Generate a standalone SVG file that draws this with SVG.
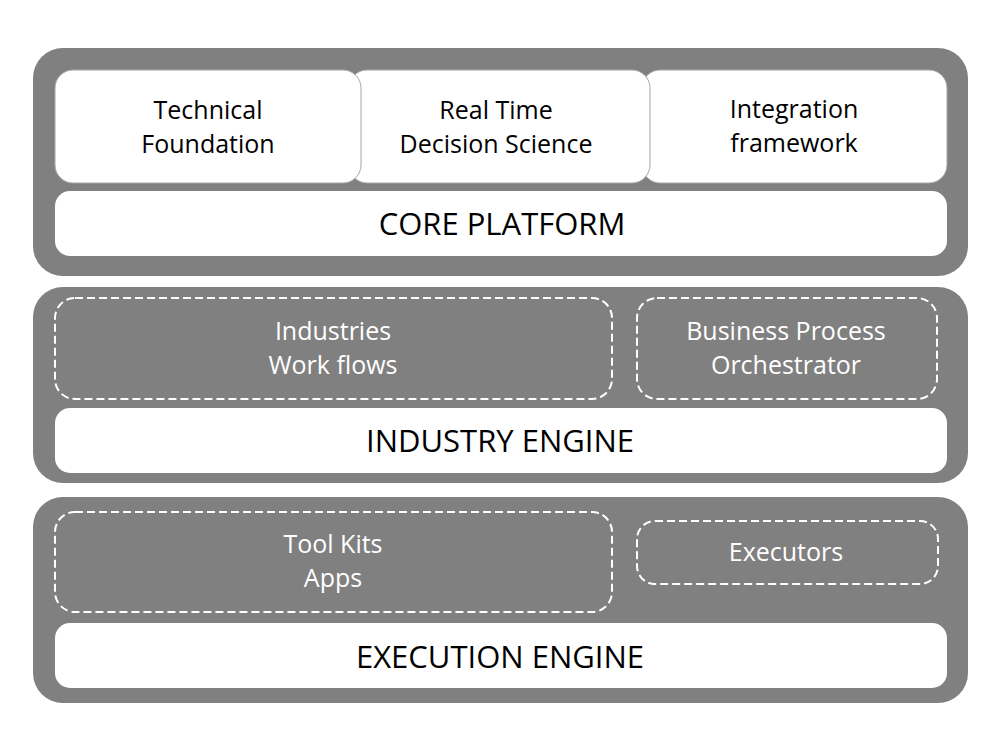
<svg xmlns="http://www.w3.org/2000/svg" width="1000" height="750" viewBox="0 0 1000 750">
<style>
.panel{fill:#808080}
.tile{fill:#fff;stroke:#a6a6a6;stroke-width:1}
.bar{fill:#fff}
.dash{fill:none;stroke:#fff;stroke-width:2;stroke-dasharray:8 4}
.t{font-family:"Open Sans","Noto Sans",sans-serif;font-size:25px;text-anchor:middle}
.dk{fill:#000}
.lt{fill:#fff}
.big{font-family:"Open Sans","Noto Sans",sans-serif;font-size:31px;text-anchor:middle;fill:#000}
</style>
<rect width="1000" height="750" fill="#fff"/>
<g id="core-platform">
<rect class="panel" x="33" y="48" width="935" height="228" rx="30"/>
<g id="integration-framework">
<rect class="tile" x="642" y="70" width="305" height="113" rx="18"/>
<text class="t dk" x="794" y="118">Integration</text>
<text class="t dk" x="794" y="152">framework</text>
</g>
<g id="real-time-decision-science">
<rect class="tile" x="349" y="70" width="301" height="113" rx="18"/>
<text class="t dk" x="496" y="119">Real Time</text>
<text class="t dk" x="496" y="153">Decision Science</text>
</g>
<g id="technical-foundation">
<rect class="tile" x="55" y="70" width="306" height="113" rx="18"/>
<text class="t dk" x="208" y="119">Technical</text>
<text class="t dk" x="208" y="153">Foundation</text>
</g>
<rect class="bar" x="55" y="191" width="892" height="65" rx="15"/>
<text class="big" x="502" y="235">CORE PLATFORM</text>
</g>
<g id="industry-engine">
<rect class="panel" x="33" y="287" width="935" height="196" rx="30"/>
<g id="industries-workflows">
<rect class="dash" x="55" y="298" width="557" height="101" rx="20"/>
<text class="t lt" x="333" y="340">Industries</text>
<text class="t lt" x="333" y="374">Work flows</text>
</g>
<g id="business-process-orchestrator">
<rect class="dash" x="637" y="298" width="300" height="101" rx="20"/>
<text class="t lt" x="786" y="340">Business Process</text>
<text class="t lt" x="786" y="374">Orchestrator</text>
</g>
<rect class="bar" x="55" y="408" width="892" height="65" rx="15"/>
<text class="big" x="500" y="452">INDUSTRY ENGINE</text>
</g>
<g id="execution-engine">
<rect class="panel" x="33" y="497" width="935" height="206" rx="30"/>
<g id="toolkits-apps">
<rect class="dash" x="55" y="512" width="557" height="100" rx="20"/>
<text class="t lt" x="333" y="553">Tool Kits</text>
<text class="t lt" x="333" y="587">Apps</text>
</g>
<g id="executors">
<rect class="dash" x="637" y="521" width="301" height="63" rx="18"/>
<text class="t lt" x="786" y="561">Executors</text>
</g>
<rect class="bar" x="55" y="623" width="892" height="65" rx="15"/>
<text class="big" x="500" y="668">EXECUTION ENGINE</text>
</g>
<g id="connectors"></g>
</svg>
